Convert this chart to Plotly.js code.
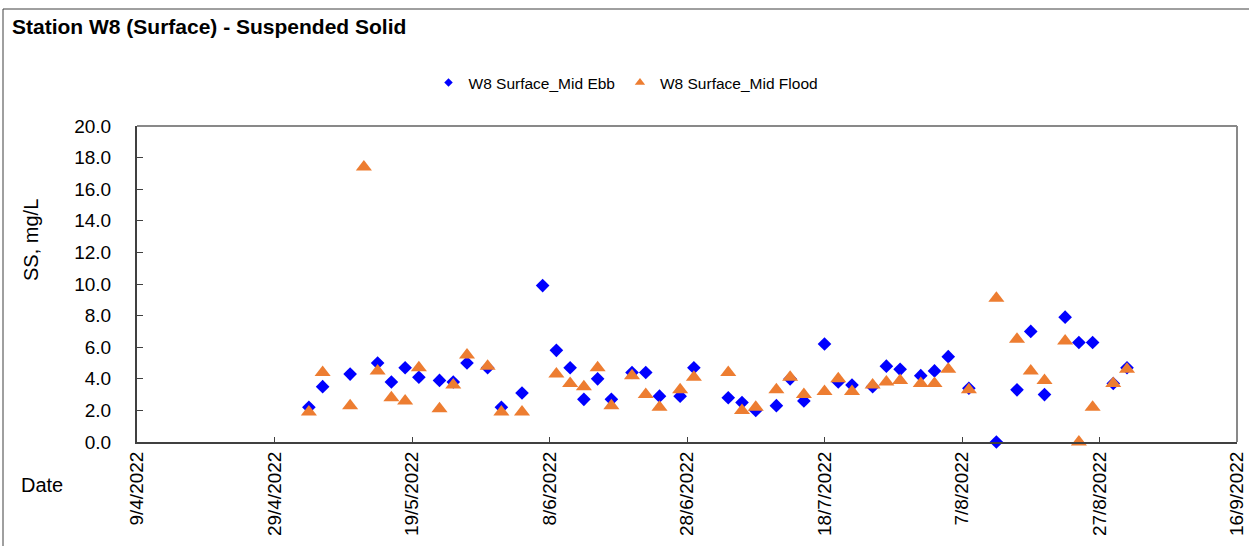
<!DOCTYPE html>
<html>
<head>
<meta charset="utf-8">
<script src="https://cdn.plot.ly/plotly-3.0.1.min.js"></script>
<style>html,body{margin:0;padding:0;background:#fff;}#chart{width:1249px;height:546px;}</style>
</head>
<body>
<div id="chart"></div>
<script>
// ---- Data ----
const chartTitle = "Station W8 (Surface) - Suspended Solid";
const ebbName = "W8 Surface_Mid Ebb";
const floodName = "W8 Surface_Mid Flood";

const ebbDates = ["2022-05-04","2022-05-06","2022-05-10","2022-05-14","2022-05-16","2022-05-18","2022-05-20","2022-05-23","2022-05-25","2022-05-27","2022-05-30","2022-06-01","2022-06-04","2022-06-07","2022-06-09","2022-06-11","2022-06-13","2022-06-15","2022-06-17","2022-06-20","2022-06-22","2022-06-24","2022-06-27","2022-06-29","2022-07-04","2022-07-06","2022-07-08","2022-07-11","2022-07-13","2022-07-15","2022-07-18","2022-07-20","2022-07-22","2022-07-25","2022-07-27","2022-07-29","2022-08-01","2022-08-03","2022-08-05","2022-08-08","2022-08-12","2022-08-15","2022-08-17","2022-08-19","2022-08-22","2022-08-24","2022-08-26","2022-08-29","2022-08-31"];
const ebbSS = [2.2,3.5,4.3,5.0,3.8,4.7,4.1,3.9,3.8,5.0,4.7,2.2,3.1,9.9,5.8,4.7,2.7,4.0,2.7,4.4,4.4,2.9,2.9,4.7,2.8,2.5,2.0,2.3,4.0,2.6,6.2,3.8,3.6,3.5,4.8,4.6,4.2,4.5,5.4,3.4,0.0,3.3,7.0,3.0,7.9,6.3,6.3,3.7,4.7];

const floodDates = ["2022-05-04","2022-05-06","2022-05-10","2022-05-12","2022-05-14","2022-05-16","2022-05-18","2022-05-20","2022-05-23","2022-05-25","2022-05-27","2022-05-30","2022-06-01","2022-06-04","2022-06-09","2022-06-11","2022-06-13","2022-06-15","2022-06-17","2022-06-20","2022-06-22","2022-06-24","2022-06-27","2022-06-29","2022-07-04","2022-07-06","2022-07-08","2022-07-11","2022-07-13","2022-07-15","2022-07-18","2022-07-20","2022-07-22","2022-07-25","2022-07-27","2022-07-29","2022-08-01","2022-08-03","2022-08-05","2022-08-08","2022-08-12","2022-08-15","2022-08-17","2022-08-19","2022-08-22","2022-08-24","2022-08-26","2022-08-29","2022-08-31"];
const floodSS = [1.9,4.4,2.3,17.4,4.5,2.8,2.6,4.7,2.1,3.6,5.5,4.8,1.9,1.9,4.3,3.7,3.5,4.7,2.3,4.2,3.0,2.2,3.3,4.1,4.4,2.0,2.2,3.3,4.1,3.0,3.2,4.0,3.2,3.6,3.8,3.9,3.7,3.7,4.6,3.3,9.1,6.5,4.5,3.9,6.4,0.0,2.2,3.7,4.6];

const xTickVals = ["2022-04-09","2022-04-29","2022-05-19","2022-06-08","2022-06-28","2022-07-18","2022-08-07","2022-08-27","2022-09-16"];
const xTickText = ["9/4/2022","29/4/2022","19/5/2022","8/6/2022","28/6/2022","18/7/2022","7/8/2022","27/8/2022","16/9/2022"];
const yTickVals = [0,2,4,6,8,10,12,14,16,18,20];
const yTickText = ["0.0","2.0","4.0","6.0","8.0","10.0","12.0","14.0","16.0","18.0","20.0"];

// ---- Chart ----
const FONT = "Liberation Sans, Arial, sans-serif";
const W = 1249, H = 546;
const L = 137, R = 12, T = 126, B = 104;
const pw = W - L - R, ph = H - T - B;
const px = v => (v - L) / pw;        // pixel x -> paper x
const py = v => (H - B - v) / ph;    // pixel y -> paper y

const traces = [
  {x: ebbDates, y: ebbSS, type: "scatter", mode: "markers", name: ebbName, showlegend: false,
   marker: {symbol: "diamond", size: 10.5, color: "#0000FF"}, cliponaxis: false},
  {x: floodDates, y: floodSS, type: "scatter", mode: "markers", name: floodName, showlegend: false,
   marker: {symbol: "triangle-up", size: 14, color: "#ED7D31"}, cliponaxis: false},
  {x: [null], y: [null], type: "scatter", mode: "markers", name: ebbName,
   marker: {symbol: "diamond", size: 6.5, color: "#0000FF"}},
  {x: [null], y: [null], type: "scatter", mode: "markers", name: floodName,
   marker: {symbol: "triangle-up", size: 9, color: "#ED7D31"}}
];

const layout = {
  width: W, height: H,
  margin: {l: L, r: R, t: T, b: B, pad: 0},
  paper_bgcolor: "#ffffff", plot_bgcolor: "#ffffff",
  font: {family: FONT, color: "#000000", size: 19},
  title: {text: "<b>" + chartTitle + "</b>", font: {family: FONT, size: 21, color: "#000"},
          xref: "container", yref: "container", x: 12 / W, xanchor: "left", y: 1 - 27 / H, yanchor: "middle"},
  showlegend: true,
  legend: {orientation: "h", x: px(626), xanchor: "center", y: py(83), yanchor: "middle",
           font: {family: FONT, size: 15.5, color: "#000"}, bgcolor: "rgba(0,0,0,0)", itemclick: false},
  xaxis: {type: "date", range: ["2022-04-09", "2022-09-16"], tickmode: "array",
          tickvals: xTickVals, ticktext: xTickText, tickangle: -90,
          ticks: "inside", ticklen: 5, tickcolor: "#404040", tickwidth: 1,
          showline: true, linecolor: "#404040", linewidth: 2, showgrid: false, zeroline: false,
          tickfont: {family: FONT, size: 19, color: "#000"}, fixedrange: true},
  yaxis: {range: [0, 20], tickmode: "array", tickvals: yTickVals, ticktext: yTickText,
          ticks: "inside", ticklen: 6, tickcolor: "#404040", tickwidth: 1,
          showline: true, linecolor: "#404040", linewidth: 2, showgrid: false, zeroline: false,
          ticklabelstandoff: 20,
          tickfont: {family: FONT, size: 19, color: "#000"}, fixedrange: true},
  shapes: [
    {type: "line", xref: "paper", yref: "paper", x0: 0, x1: 1, y0: 1, y1: 1, line: {color: "#898989", width: 2}},
    {type: "line", xref: "paper", yref: "paper", x0: 1, x1: 1, y0: 0, y1: 1, line: {color: "#898989", width: 2}},
    {type: "rect", xref: "paper", yref: "paper", x0: px(3), x1: px(1300), y0: py(600), y1: py(9),
     line: {color: "#404040", width: 1}, fillcolor: "rgba(0,0,0,0)", layer: "below"}
  ],
  annotations: [
    {text: "SS, mg/L", xref: "paper", yref: "paper", x: px(31), y: py(240), textangle: -90,
     showarrow: false, xanchor: "center", yanchor: "middle", font: {family: FONT, size: 20, color: "#000"}},
    {text: "Date", xref: "paper", yref: "paper", x: px(19), y: py(485), showarrow: false,
     xanchor: "left", yanchor: "middle", font: {family: FONT, size: 20, color: "#000"}}
  ]
};

Plotly.newPlot("chart", traces, layout, {displayModeBar: false, staticPlot: true});
</script>
</body>
</html>
